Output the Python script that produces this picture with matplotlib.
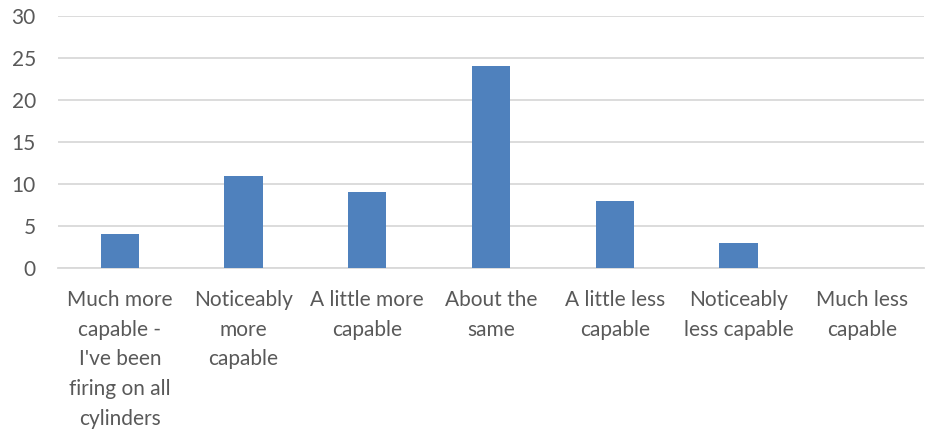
import matplotlib
matplotlib.use("Agg")
import matplotlib.pyplot as plt

categories = ["Much more\ncapable -\nI've been\nfiring on all\ncylinders",
              "Noticeably\nmore\ncapable",
              "A little more\ncapable",
              "About the\nsame",
              "A little less\ncapable",
              "Noticeably\nless capable",
              "Much less\ncapable"]
values = [4, 11, 9, 24, 8, 3, 0]
yticks = [0, 5, 10, 15, 20, 25, 30]

plt.rcParams['font.family'] = ['Lato', 'DejaVu Sans']
fig = plt.figure(figsize=(9.26, 4.32), dpi=100)
ax = fig.add_axes([58/926, 164/432, 866/926, 252/432])
x = list(range(len(values)))
ax.bar(x, values, width=0.31, color='#4F81BD', zorder=3)
ax.set_xlim(-0.5, len(values) - 0.5)
ax.set_ylim(0, 30)
ax.set_yticks(yticks)
ax.grid(axis='y', color='#D9D9D9', linewidth=1.3, zorder=0)
for s in ['top', 'right', 'left']:
    ax.spines[s].set_visible(False)
ax.spines['bottom'].set_color('#D9D9D9')
ax.spines['bottom'].set_linewidth(1.3)
ax.tick_params(axis='both', length=0, colors='#595959', labelsize=15)
ax.tick_params(axis='y', pad=16)
ax.tick_params(axis='x', pad=16)
ax.set_xticks(x)
ax.set_xticklabels(categories, linespacing=1.6)
fig.savefig('out.png', dpi=100)
